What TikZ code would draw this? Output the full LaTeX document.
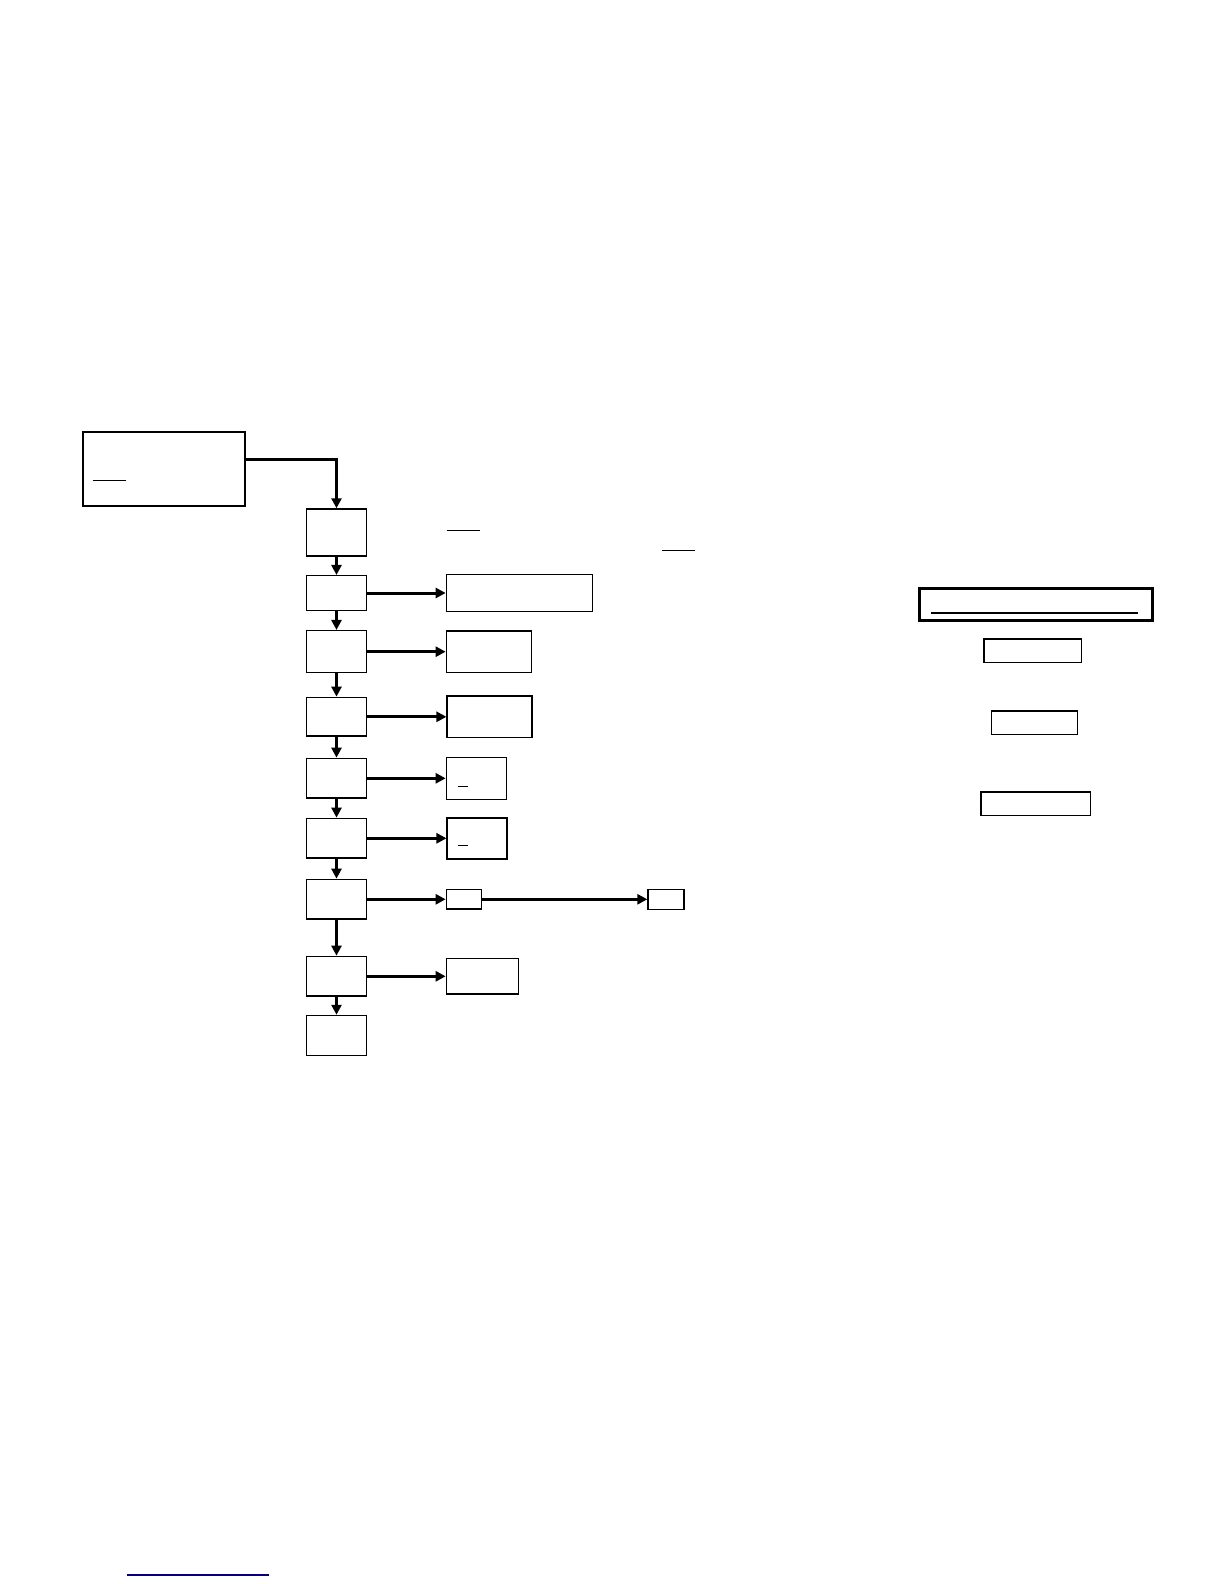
\documentclass[tikz,border=0pt]{standalone}
\usepackage{xcolor}
\usepackage{tikz}
\usetikzlibrary{arrows.meta, positioning}

\begin{document}
\begin{tikzpicture}[
    % 1 unidade = 1 pixel da página (y para baixo)
    x=0.5pt, y=-0.5pt,
    node distance=10pt,
    box/.style={rectangle, draw=black, line width=0.75pt, fill=white, inner sep=0pt, minimum width=30pt},
    % Caixas laterais de resultado
    sidebox/.style={rectangle, draw=black, line width=0.75pt, fill=white, inner sep=0pt},
    % Caixas da legenda à direita
    legend/.style={rectangle, draw=black, line width=0.8pt, inner sep=0pt},
    arrow/.style={-{Triangle[length=5pt, width=5pt]}, draw=black, line width=1.5pt},
    uline/.style={draw=black, line width=0.7pt}
]
\useasboundingbox (0,0) rectangle (1224,1584);

% 1. Caixa inicial
\node[box, anchor=north west, minimum width=81pt, minimum height=37pt] (inicio) at (82,431) {};
\draw[uline] (92.7,480.7) -- (126,480.7);

% 2. Coluna principal
\node[box, minimum height=23.5pt] (p1) at (336.5,532.5) {};
\node[box, minimum height=17.3pt] (p2) at (336.5,593) {};
\node[box, minimum height=21pt] (p3) at (336.5,651.7) {};
\node[box, minimum height=19.4pt] (p4) at (336.5,716.8) {};
\node[box, minimum height=19.9pt] (p5) at (336.5,778.3) {};
\node[box, minimum height=19.9pt] (p6) at (336.5,838.3) {};
\node[box, minimum height=19.9pt] (p7) at (336.5,899.3) {};
\node[box, minimum height=19.9pt] (p8) at (336.5,976.3) {};
\node[box, minimum height=20pt] (p9) at (336.5,1035.5) {};

% Sublinhados soltos ao lado de p1
\draw[uline] (446.7,530.7) -- (480,530.7);
\draw[uline] (661.7,550.7) -- (695,550.7);

% 3. Caixas laterais
\node[sidebox, right=39.2pt of p2, minimum width=73pt, minimum height=18.5pt] (r2) {};
\node[sidebox, right=39.2pt of p3, minimum width=42.5pt, minimum height=20.8pt] (r3) {};
\node[sidebox, right=39.6pt of p4, minimum width=42.5pt, minimum height=20.8pt] (r4) {};
\node[sidebox, right=39.2pt of p5, minimum width=30pt, minimum height=21pt] (r5) {};
\node[sidebox, right=39.6pt of p6, minimum width=30pt, minimum height=20.5pt] (r6) {};
\node[sidebox, right=39.2pt of p7, minimum width=17.6pt, minimum height=9.6pt] (r7) {};
\node[sidebox, right=82.5pt of r7, minimum width=18pt, minimum height=10pt] (r7b) {};
\node[sidebox, right=39.2pt of p8, minimum width=36pt, minimum height=17.8pt] (r8) {};

\draw[uline] (458.3,786.7) -- (468.3,786.7);
\draw[uline] (458.3,845.7) -- (468.3,845.7);

% 4. Legenda à direita
\node[legend, line width=1.3pt, minimum width=116.3pt, minimum height=16pt] (leg1) at (1036,604.3) {};
\draw[uline, line width=0.85pt] (930.7,612.7) -- (1138,612.7);
\node[legend, minimum width=48.8pt, minimum height=11.8pt] (leg2) at (1032.8,650.8) {};
\node[legend, minimum width=43pt, minimum height=11.6pt] (leg3) at (1034.5,722.7) {};
\node[legend, minimum width=54.8pt, minimum height=11.8pt] (leg4) at (1035.8,803.8) {};

% Linha azul no rodapé
\draw[blue!50!black, line width=0.6pt] (126.7,1575) -- (269,1575);

% 5. Setas de ligação
\draw[arrow, line width=1.6pt] ([yshift=4.7pt]inicio.east) -| (p1.north);
\draw[arrow] (p1) -- (p2);
\draw[arrow] (p2) -- (p3);
\draw[arrow] (p3) -- (p4);
\draw[arrow] (p4) -- (p5);
\draw[arrow] (p5) -- (p6);
\draw[arrow] (p6) -- (p7);
\draw[arrow] (p7) -- (p8);
\draw[arrow] (p8) -- (p9);

\draw[arrow] (p2) -- (r2);
\draw[arrow] (p3) -- (r3);
\draw[arrow] (p4) -- (r4);
\draw[arrow] (p5) -- (r5);
\draw[arrow] (p6) -- (r6);
\draw[arrow] (p7) -- (r7);
\draw[arrow] (r7) -- (r7b);
\draw[arrow] (p8) -- (r8);

\end{tikzpicture}
\end{document}
